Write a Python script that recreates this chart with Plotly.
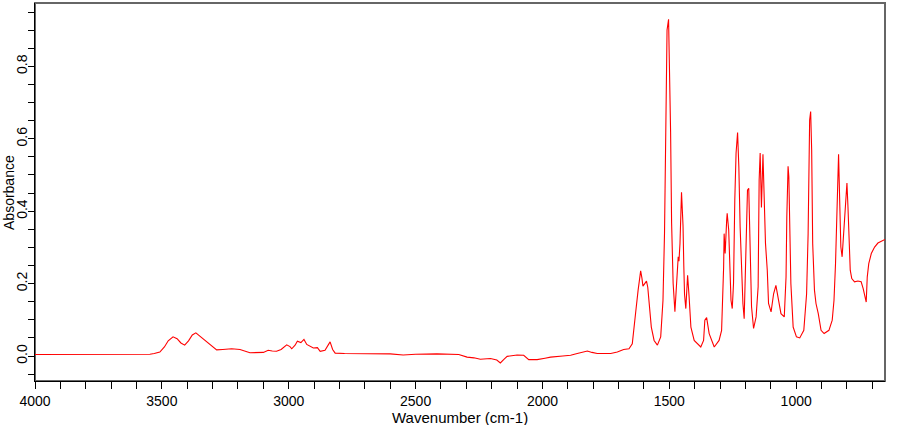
import plotly.graph_objects as go

wavenumber = [
    4000, 3700, 3560, 3547, 3530, 3508, 3490, 3475, 3456, 3440, 3425, 3410, 3395, 3380, 3366,
    3350, 3330, 3310, 3284, 3260, 3225, 3192, 3170, 3153, 3100, 3081, 3065, 3048, 3030, 3008,
    2995, 2988, 2975, 2966, 2952, 2940, 2929, 2915, 2903, 2887, 2876, 2857, 2845, 2837, 2827,
    2817, 2780, 2732, 2720, 2707, 2680, 2600, 2549, 2500, 2416, 2363, 2330, 2297, 2270, 2245,
    2205, 2180, 2166, 2150, 2139, 2100, 2074, 2054, 2021, 1990, 1968, 1920, 1889, 1863, 1840,
    1823, 1805, 1784, 1731, 1705, 1680, 1659, 1646, 1639, 1633, 1623, 1616, 1613, 1608, 1604,
    1597, 1590, 1585, 1580, 1571, 1560, 1547, 1534, 1525, 1519, 1514, 1509, 1503, 1499, 1495,
    1491, 1485, 1478, 1470, 1465, 1462, 1458, 1452, 1446, 1443, 1440, 1435, 1428, 1422, 1415,
    1402, 1376, 1365, 1360, 1353, 1343, 1323, 1304, 1294, 1289, 1286, 1284, 1280, 1274, 1272,
    1266, 1261, 1257, 1252, 1247, 1242, 1237, 1231, 1226, 1221, 1215, 1210, 1205, 1197, 1192,
    1187, 1182, 1176, 1168, 1158, 1150, 1146, 1142, 1137, 1131, 1127, 1121, 1114, 1109, 1099,
    1089, 1080, 1069, 1060, 1047, 1040, 1037, 1032, 1029, 1025, 1021, 1012, 999, 986, 970,
    959, 953, 947, 943, 939, 935, 928, 922, 913, 902, 890, 871, 858, 851, 845,
    841, 837, 833, 828, 824, 819, 813, 806, 800, 796, 791, 787, 781, 770, 757,
    744, 736, 728, 724, 720, 714, 704, 691, 678, 658, 650,
]

absorbance = [
    0.004, 0.004, 0.004, 0.005, 0.007, 0.011, 0.025, 0.042, 0.053, 0.048, 0.036, 0.030, 0.042, 0.058, 0.064,
    0.055, 0.042, 0.030, 0.017, 0.018, 0.020, 0.018, 0.013, 0.009, 0.010, 0.016, 0.014, 0.013, 0.018, 0.031,
    0.026, 0.020, 0.030, 0.041, 0.037, 0.046, 0.032, 0.026, 0.022, 0.023, 0.013, 0.016, 0.028, 0.039, 0.018,
    0.008, 0.007, 0.007, 0.005, 0.007, 0.007, 0.006, 0.003, 0.005, 0.006, 0.006, 0.004, -0.003, -0.005, -0.009,
    -0.007, -0.011, -0.019, -0.008, -0.001, 0.003, 0.002, -0.010, -0.010, -0.006, -0.003, 0.000, 0.002, 0.007, 0.010,
    0.014, 0.010, 0.007, 0.007, 0.011, 0.018, 0.020, 0.034, 0.071, 0.118, 0.182, 0.225, 0.235, 0.215, 0.193,
    0.200, 0.207, 0.190, 0.154, 0.080, 0.043, 0.030, 0.053, 0.154, 0.339, 0.679, 0.900, 0.930, 0.817, 0.619,
    0.367, 0.201, 0.122, 0.201, 0.274, 0.262, 0.311, 0.452, 0.360, 0.250, 0.170, 0.131, 0.223, 0.163, 0.080,
    0.043, 0.025, 0.043, 0.099, 0.106, 0.062, 0.025, 0.043, 0.071, 0.154, 0.246, 0.338, 0.283, 0.375, 0.394,
    0.348, 0.209, 0.154, 0.131, 0.200, 0.430, 0.560, 0.617, 0.522, 0.357, 0.209, 0.145, 0.103, 0.311, 0.458,
    0.463, 0.265, 0.136, 0.076, 0.108, 0.191, 0.486, 0.561, 0.410, 0.557, 0.477, 0.311, 0.237, 0.145, 0.122,
    0.172, 0.195, 0.154, 0.117, 0.108, 0.218, 0.384, 0.524, 0.495, 0.357, 0.200, 0.080, 0.053, 0.050, 0.071,
    0.172, 0.338, 0.652, 0.675, 0.569, 0.311, 0.182, 0.145, 0.117, 0.071, 0.062, 0.071, 0.099, 0.154, 0.255,
    0.357, 0.513, 0.557, 0.412, 0.301, 0.274, 0.348, 0.440, 0.478, 0.412, 0.320, 0.237, 0.214, 0.205, 0.207,
    0.205, 0.186, 0.159, 0.149, 0.218, 0.255, 0.283, 0.301, 0.312, 0.320, 0.322,
]

x_title = "Wavenumber (cm-1)"
y_title = "Absorbance"

FONT = "Liberation Sans, Arial, sans-serif"

fig = go.Figure()
fig.add_trace(go.Scatter(
    x=wavenumber, y=absorbance, mode="lines",
    line=dict(color="#ff0000", width=1.1), hoverinfo="skip", showlegend=False,
))

fig.update_layout(
    width=900, height=425,
    margin=dict(l=35, r=15, t=3, b=44),
    paper_bgcolor="white", plot_bgcolor="white",
    font=dict(family=FONT, size=14, color="#000000"),
    showlegend=False,
)

fig.update_xaxes(
    range=[4000, 650], autorange=False,
    showgrid=False, zeroline=False,
    showline=True, linecolor="#000000", linewidth=1,
    ticks="outside", ticklen=7, tickcolor="#000000", tickwidth=1,
    tick0=0, dtick=500,
    minor=dict(ticks="outside", ticklen=7, tickcolor="#000000", dtick=100, tick0=0),
    tickfont=dict(family=FONT, size=14, color="#000000"),
)
fig.update_yaxes(
    range=[-0.069, 0.975], autorange=False,
    showgrid=False, zeroline=False,
    showline=True, linecolor="#000000", linewidth=1,
    ticks="outside", ticklen=6, tickcolor="#000000", tickwidth=1,
    tick0=0, dtick=0.2, tickformat=".1f", tickangle=-90,
    ticklabelstandoff=-5,
    minor=dict(ticks="outside", ticklen=6, tickcolor="#000000", dtick=0.05, tick0=0),
    tickfont=dict(family=FONT, size=14, color="#000000"),
)

# grey frame on top/right
fig.add_shape(type="rect", xref="paper", yref="paper", x0=0, x1=1, y0=0, y1=1,
              line=dict(color="#666666", width=2), layer="below")

fig.add_annotation(text=x_title, xref="paper", yref="paper", x=0.5, y=-0.097,
                   xanchor="center", yanchor="middle", showarrow=False,
                   font=dict(family=FONT, size=15, color="#000000"))
fig.add_annotation(text=y_title, xref="paper", yref="paper", x=-0.0306, y=0.5,
                   xanchor="center", yanchor="middle", textangle=-90, showarrow=False,
                   font=dict(family=FONT, size=14, color="#000000"))

fig.write_html("out.html")
